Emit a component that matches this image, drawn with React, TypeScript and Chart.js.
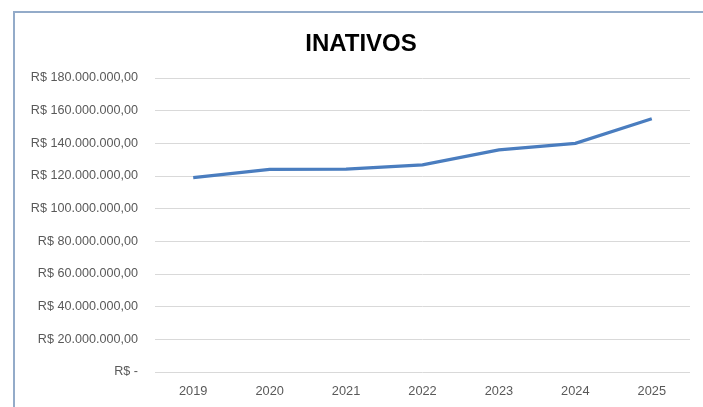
import React, { useEffect, useRef } from "react";
import { Chart, registerables } from "chart.js";

Chart.register(...registerables);

const categories = ["2019", "2020", "2021", "2022", "2023", "2024", "2025"];
const inativos = [119000000, 124000000, 124200000, 126800000, 136000000, 140000000, 155000000];
const yTicks = [0, 20000000, 40000000, 60000000, 80000000, 100000000, 120000000, 140000000, 160000000, 180000000];
const titleText = "INATIVOS";

function fmt(v: number): string {
  if (v === 0) return "R$ -";
  const s = Math.round(v).toString().replace(/\B(?=(\d{3})+(?!\d))/g, ".");
  return "R$ " + s + ",00";
}

const titlePlugin = {
  id: "offsetTitle",
  afterDraw(chart: any) {
    const ctx = chart.ctx;
    ctx.save();
    ctx.font = "bold 24px 'Liberation Sans', Arial, sans-serif";
    ctx.fillStyle = "#000000";
    ctx.textAlign = "center";
    ctx.textBaseline = "middle";
    ctx.fillText(titleText, 361, 44);
    ctx.restore();
  },
};

export default function App() {
  const ref = useRef<HTMLCanvasElement | null>(null);
  useEffect(() => {
    if (!ref.current) return;
    const chart = new Chart(ref.current, {
      type: "line",
      data: {
        labels: categories,
        datasets: [
          {
            label: "INATIVOS",
            data: inativos,
            borderColor: "#4a7dbf",
            backgroundColor: "#4a7dbf",
            borderWidth: 3.2,
            pointRadius: 0,
            tension: 0,
          },
        ],
      },
      plugins: [titlePlugin],
      options: {
        animation: false,
        responsive: false,
        maintainAspectRatio: false,
        layout: { padding: { left: 15, right: 13, top: 78, bottom: 0 } },
        plugins: {
          legend: { display: false },
          tooltip: { enabled: false },
          title: { display: false },
        },
        scales: {
          x: {
            offset: true,
            grid: { display: false, drawTicks: false },
            border: { display: false },
            ticks: {
              color: "#595959",
              font: { family: "'Liberation Sans', Arial, sans-serif", size: 12.8 },
              padding: 12,
              maxRotation: 0,
            },
            afterFit: (scale: any) => {
              scale.height = 35;
            },
          },
          y: {
            min: 0,
            max: 180000000,
            afterBuildTicks: (scale: any) => {
              scale.ticks = yTicks.map((v) => ({ value: v }));
            },
            grid: { color: "#d9d9d9", lineWidth: 1, drawTicks: false },
            border: { display: false },
            ticks: {
              color: "#595959",
              font: { family: "'Liberation Sans', Arial, sans-serif", size: 12.6 },
              padding: 17,
              callback: (v: any) => fmt(Number(v)),
            },
            afterFit: (scale: any) => {
              scale.width = 140;
            },
          },
        },
      },
    });
    return () => chart.destroy();
  }, []);

  return (
    <div style={{ position: "fixed", left: 0, top: 0, width: 703, height: 407, background: "#ffffff", overflow: "hidden" }}>
      <div
        style={{
          position: "absolute",
          left: 13,
          top: 11,
          width: 720,
          height: 420,
          borderLeft: "2px solid #93abc9",
          borderTop: "2px solid #93abc9",
        }}
      />
      <canvas ref={ref} width={703} height={407} style={{ position: "absolute", left: 0, top: 0, width: 703, height: 407 }} />
    </div>
  );
}
